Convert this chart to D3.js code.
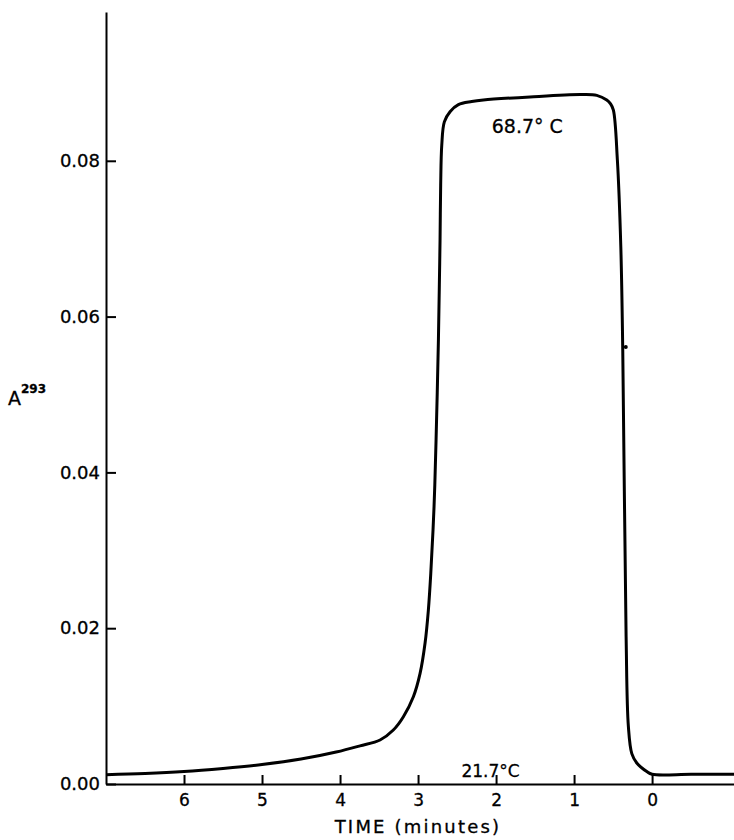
<!DOCTYPE html>
<html lang="en">
<head>
  <meta charset="utf-8">
  <title>A293 vs time</title>
  <script src="https://d3js.org/d3.v7.min.js"></script>
  <style>
    body {
      margin: 0;
      padding: 0;
      background-color: #fff;
    }
    svg text {
      font-family: "DejaVu Sans", sans-serif;
      fill: #000;
      stroke: #000;
      stroke-width: 0.3px;
    }
  </style>
</head>
<body>
  <svg id="chart" width="734" height="840"></svg>

  <script>
    // time (minutes, axis runs backwards) and absorbance at 293 nm
    const times = [7.0, 6.5, 6.0, 5.5, 5.0, 4.5, 4.05, 3.744, 3.487, 3.317, 3.188, 3.06,
      2.974, 2.91, 2.868, 2.837, 2.795, 2.769, 2.739, 2.727, 2.718, 2.71, 2.696, 2.663, 2.59,
      2.483, 2.312, 2.163, 1.564, 0.923, 0.709, 0.581, 0.532, 0.496, 0.445, 0.401, 0.376,
      0.333, 0.304, 0.26, 0.196, 0.068, 0.0, -0.5, -1.05];
    const absorbance = [0.0012, 0.00135, 0.0016, 0.002, 0.0025, 0.0032, 0.0041, 0.0049,
      0.00565, 0.00693, 0.00864, 0.0112, 0.0142, 0.0181, 0.0223, 0.027, 0.0356, 0.0442,
      0.057, 0.0641, 0.0698, 0.0769, 0.082, 0.085, 0.0863, 0.0872, 0.0876, 0.0878, 0.0882,
      0.0885, 0.0884, 0.0878, 0.0873, 0.0865, 0.0801, 0.069, 0.0557, 0.0189, 0.0074, 0.0039,
      0.0027, 0.0016, 0.00125, 0.00125, 0.00125];

    const xTicks = [6, 5, 4, 3, 2, 1, 0];
    const yTicks = [0, 0.02, 0.04, 0.06, 0.08];

    // little nick on the falling edge
    const markTime = [0.35];
    const markAbs = [0.0561];

    const tempLabels = [
      { text: "68.7° C", t: 1.6, a: 0.0836, size: 19 },
      { text: "21.7°C", t: 2.07, a: 0.0009, size: 17 }
    ];

    const svg = d3.select("#chart");

    const mLeft = 106, mRight = 734, mTop = 12, mBottom = 784;

    const x = d3.scaleLinear().domain([7, -1.05]).range([mLeft, mRight]);
    const y = d3.scaleLinear().domain([0, 0.0991]).range([mBottom, mTop]);

    // y axis, ticks pointing inward
    const yAxis = svg.append("g")
      .attr("transform", `translate(${mLeft},0)`)
      .call(d3.axisLeft(y).tickValues(yTicks).tickFormat(d3.format(".2f"))
        .tickSizeInner(-10).tickSizeOuter(0).tickPadding(6));
    yAxis.selectAll("text").style("font-size", "18px");
    yAxis.selectAll("line, path").attr("stroke", "#000").attr("stroke-width", 2);

    // x axis, ticks pointing up
    const xAxis = svg.append("g")
      .attr("transform", `translate(0,${mBottom})`)
      .call(d3.axisBottom(x).tickValues(xTicks).tickFormat(d3.format("d"))
        .tickSizeInner(-9).tickSizeOuter(0).tickPadding(10));
    xAxis.selectAll("text").style("font-size", "17px");
    xAxis.selectAll("line, path").attr("stroke", "#000").attr("stroke-width", 2);

    // the trace
    const points = times.map((t, i) => [x(t), y(absorbance[i])]);
    svg.append("path")
      .datum(points)
      .attr("fill", "none")
      .attr("stroke", "#000")
      .attr("stroke-width", 3)
      .attr("stroke-linejoin", "round")
      .attr("d", d3.line().curve(d3.curveCatmullRom.alpha(0.5)));

    svg.selectAll(".mark")
      .data(markTime)
      .join("circle")
      .attr("cx", (d, i) => x(d) + 1)
      .attr("cy", (d, i) => y(markAbs[i]))
      .attr("r", 2)
      .attr("fill", "#000");

    // temperature notes
    svg.selectAll(".temp")
      .data(tempLabels)
      .join("text")
      .attr("x", d => x(d.t))
      .attr("y", d => y(d.a))
      .attr("text-anchor", "middle")
      .style("font-size", d => d.size + "px")
      .text(d => d.text);

    // axis titles
    const yTitle = svg.append("text")
      .attr("x", 8)
      .attr("y", 405)
      .style("font-size", "19px");
    yTitle.append("tspan").text("A");
    yTitle.append("tspan")
      .attr("dy", -12)
      .style("font-size", "12px")
      .style("font-weight", "bold")
      .text("293");

    svg.append("text")
      .attr("x", 418)
      .attr("y", 833)
      .attr("text-anchor", "middle")
      .style("font-size", "18px")
      .style("letter-spacing", "2.2px")
      .text("TIME (minutes)");
  </script>
</body>
</html>
